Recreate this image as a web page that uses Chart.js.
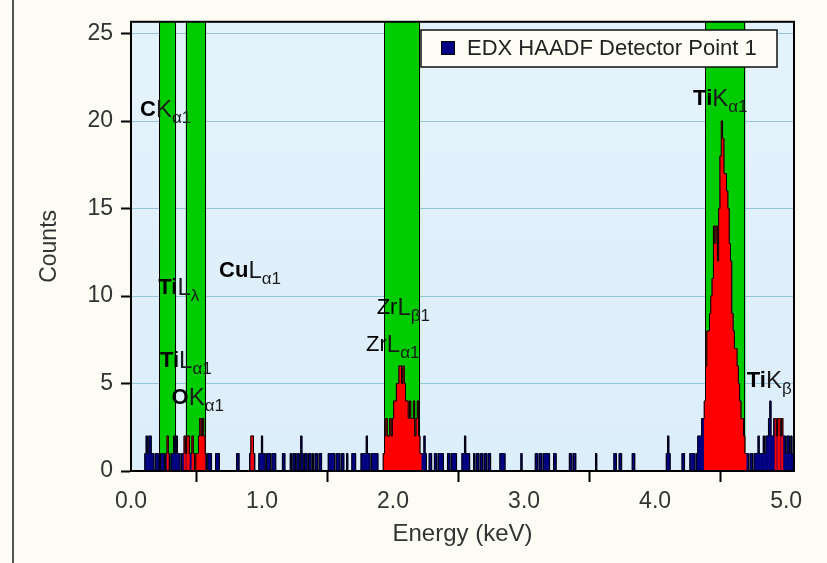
<!DOCTYPE html>
<html>
<head>
<meta charset="utf-8">
<script src="https://cdn.jsdelivr.net/npm/chart.js@4.4.1/dist/chart.umd.min.js"></script>
<style>
html,body{margin:0;padding:0;background:#fcfcf4;}
canvas{display:block;}
</style>
</head>
<body>
<canvas id="c" width="827" height="563"></canvas>
<script>
// ---------------- DATA ----------------
const channelWidth = 0.01; // keV per channel (channel 0 = 0.00 keV)
const seriesLabel = 'EDX HAADF Detector Point 1';
// counts per channel, channels 0..505
const counts = [
  0,0,0,0,0,0,0,0,0,0,
  0,1,2,1,2,2,1,1,0,1,
  1,1,0,1,1,1,0,1,2,1,
  0,1,1,2,1,2,1,1,0,1,
  1,2,1,2,2,1,1,2,1,0,
  1,1,2,3,2,3,2,1,0,1,
  1,1,0,0,0,1,1,1,0,0,
  0,0,0,0,0,0,0,0,0,0,
  0,1,1,0,0,0,0,0,0,0,
  0,1,2,2,1,0,0,0,1,1,
  2,1,1,0,1,1,1,0,1,1,
  1,0,0,0,0,0,1,1,0,0,
  0,0,1,0,1,1,0,1,1,0,
  2,1,0,1,1,0,1,1,0,1,
  0,1,1,0,1,1,0,0,0,0,
  0,1,1,1,1,1,0,1,1,1,
  0,1,1,0,0,1,0,0,0,1,
  1,1,0,0,0,0,1,1,1,1,
  2,1,1,0,1,1,1,1,1,0,
  0,0,0,1,2,3,2,2,3,2,
  3,4,4,5,5,6,6,5,6,5,
  4,4,3,4,3,3,4,2,3,4,
  2,1,1,1,2,1,0,0,1,1,
  0,0,1,1,0,1,1,1,1,0,
  0,0,1,1,0,1,1,1,1,0,
  0,0,0,1,1,2,1,1,1,0,
  0,0,1,0,1,1,0,1,1,0,
  1,1,0,1,1,0,0,0,0,0,
  0,0,1,1,1,1,0,0,0,0,
  0,0,0,0,0,0,0,0,1,0,
  0,0,0,0,0,0,0,0,0,1,
  1,0,1,1,0,1,1,1,1,1,
  0,0,0,1,1,0,0,0,0,0,
  0,0,0,0,0,1,1,0,1,1,
  0,0,0,0,0,0,0,0,0,0,
  0,0,0,0,0,1,0,0,0,0,
  0,0,0,0,0,0,0,0,0,1,
  1,0,0,1,1,0,0,0,0,0,
  0,0,0,1,1,0,0,0,0,0,
  0,0,0,0,0,0,0,0,0,0,
  0,0,0,0,0,0,0,0,0,1,
  2,1,0,0,0,0,0,0,0,0,
  0,1,1,0,0,0,0,1,1,1,
  1,0,1,2,2,2,3,3,4,6,
  8,8,9,10,11,14,13,14,12,15,
  18,20,19,17,17,16,15,13,12,9,
  8,7,7,6,5,4,3,3,2,1,
  1,1,0,1,1,0,1,1,1,2,
  1,1,1,2,1,2,2,3,4,2,
  2,3,3,2,3,3,2,3,2,2,
  1,2,2,1,2,1
];
// identified-peak counts drawn in red (channel, count)
const peakChannels = [
  28,
  41,43,44,47,48,50,51,52,53,54,55,56,
  92,93,
  193,194,195,196,197,198,199,200,201,202,203,204,205,206,207,208,209,210,211,212,213,214,215,216,217,218,219,220,221,
  438,439,440,441,442,443,444,445,446,447,448,449,450,451,452,453,454,455,456,457,458,459,460,461,462,463,464,465,466,467,468,469,
  492,494,495,497
];
const peakCounts = [
  2,
  2,2,2,2,1,1,1,2,3,2,3,2,
  2,2,
  1,2,3,2,2,3,2,3,4,4,5,5,6,6,5,6,5,4,4,3,4,3,3,4,2,3,4,2,1,
  4,6,8,8,9,10,11,14,13,14,12,15,18,20,19,17,17,16,15,13,12,9,8,7,7,6,5,4,3,3,2,1,
  3,3,3,3
];
// element windows (keV)
const bandStarts = [0.216, 0.418, 1.934, 4.384];
const bandEnds   = [0.344, 0.573, 2.206, 4.689];
// axis ticks
const xTicks = [0, 1, 2, 3, 4, 5];
const yTicks = [0, 5, 10, 15, 20, 25];
// line labels
const labelElements = ['C', 'Ti', 'Cu', 'Ti', 'O', 'Zr', 'Zr', 'Ti', 'Ti'];
const labelLines    = ['K', 'L', 'L', 'L', 'K', 'L', 'L', 'K', 'K'];
const labelSubs     = ['α1', 'λ', 'α1', 'α1', 'α1', 'β1', 'α1', 'α1', 'β'];
const labelBold     = [true, true, true, true, true, false, false, true, true];
const labelEnergies = [0.069, 0.208, 0.672, 0.221, 0.31, 1.875, 1.794, 4.29, 4.70];
const labelCounts   = [20.3, 10.1, 11.06, 5.92, 3.85, 9.0, 6.87, 20.9, 4.8];

// ---------------- CHART ----------------
const FONT = "'Liberation Sans', Arial, sans-serif";
const spectrum = counts.map((c, i) => ({ x: +(i * channelWidth).toFixed(2), y: c }));
const peaks = peakChannels.map((ch, k) => ({ x: +(ch * channelWidth).toFixed(2), y: peakCounts[k] }));

const decor = {
  id: 'decor',
  beforeDraw(chart) {
    const { ctx, chartArea: a } = chart;
    ctx.save();
    ctx.fillStyle = '#fcfcf4';
    ctx.fillRect(0, 0, chart.width, chart.height);
    ctx.fillStyle = '#555';
    ctx.fillRect(12, 0, 2, chart.height);
    const g = ctx.createLinearGradient(0, a.top, 0, a.bottom);
    g.addColorStop(0, '#e4f2fb');
    g.addColorStop(1, '#dceefa');
    ctx.fillStyle = g;
    ctx.fillRect(a.left, a.top, a.right - a.left, a.bottom - a.top);
    ctx.restore();
  },
  beforeDatasetsDraw(chart) {
    const { ctx, chartArea: a, scales: { x } } = chart;
    ctx.save();
    for (let k = 0; k < bandStarts.length; k++) {
      const x0 = x.getPixelForValue(bandStarts[k]);
      const x1 = x.getPixelForValue(bandEnds[k]);
      ctx.fillStyle = '#00cc00';
      ctx.fillRect(x0, a.top, x1 - x0, a.bottom - a.top);
      ctx.strokeStyle = '#000';
      ctx.lineWidth = 1;
      ctx.beginPath();
      ctx.moveTo(Math.round(x0) + 0.5, a.top); ctx.lineTo(Math.round(x0) + 0.5, a.bottom);
      ctx.moveTo(Math.round(x1) - 0.5, a.top); ctx.lineTo(Math.round(x1) - 0.5, a.bottom);
      ctx.stroke();
    }
    ctx.restore();
  },
  afterDraw(chart) {
    const { ctx, chartArea: a, scales: { x, y } } = chart;
    ctx.save();
    // labels
    ctx.beginPath();
    ctx.rect(a.left, a.top, a.right - a.left, a.bottom - a.top);
    ctx.clip();
    ctx.textBaseline = 'alphabetic';
    ctx.textAlign = 'left';
    for (let k = 0; k < labelElements.length; k++) {
      let px = x.getPixelForValue(labelEnergies[k]);
      const py = y.getPixelForValue(labelCounts[k]);
      ctx.fillStyle = '#000';
      ctx.font = (labelBold[k] ? 'bold ' : '') + '22px ' + FONT;
      ctx.fillText(labelElements[k], px, py);
      px += ctx.measureText(labelElements[k]).width;
      ctx.fillStyle = '#1a1a1a';
      ctx.font = '24px ' + FONT;
      ctx.fillText(labelLines[k], px, py + 1);
      px += ctx.measureText(labelLines[k]).width;
      ctx.font = '17px ' + FONT;
      ctx.fillText(labelSubs[k], px, py + 7);
    }
    ctx.restore();
    // frame
    ctx.save();
    ctx.strokeStyle = '#000';
    ctx.lineWidth = 2;
    ctx.strokeRect(a.left, a.top, a.right - a.left, a.bottom - a.top);
    // legend
    const lx = 421, ly = 30, lw = 356, lh = 37;
    ctx.fillStyle = '#fdfdf6';
    ctx.fillRect(lx, ly, lw, lh);
    ctx.lineWidth = 1.5;
    ctx.strokeStyle = '#111';
    ctx.strokeRect(lx, ly, lw, lh);
    ctx.fillStyle = '#000080';
    ctx.fillRect(441, 41, 14, 14);
    ctx.lineWidth = 1;
    ctx.strokeStyle = '#000';
    ctx.strokeRect(441.5, 41.5, 13, 13);
    ctx.fillStyle = '#222';
    ctx.font = '22px ' + FONT;
    ctx.textBaseline = 'middle';
    ctx.fillText(chart.data.datasets[1].label, 467, 49);
    ctx.restore();
  }
};

new Chart(document.getElementById('c').getContext('2d'), {
  type: 'bar',
  data: {
    datasets: [
      { type: 'line', label: 'outline', data: spectrum, stepped: 'middle', borderColor: '#000', borderWidth: 1,
        pointRadius: 0, fill: false, order: 0 },
      { label: seriesLabel, data: spectrum, backgroundColor: '#000080', borderWidth: 0, grouped: false,
        barPercentage: 1, categoryPercentage: 1, order: 2 },
      { label: 'peaks', data: peaks, backgroundColor: '#ff0000', borderWidth: 0, grouped: false,
        barPercentage: 1, categoryPercentage: 1, order: 1 }
    ]
  },
  options: {
    responsive: false,
    animation: false,
    devicePixelRatio: 1,
    layout: { padding: { left: 0, right: 33, top: 12, bottom: 0 } },
    plugins: { legend: { display: false }, tooltip: { enabled: false } },
    scales: {
      x: {
        type: 'linear', min: 0, max: 5.06, offset: false,
        afterBuildTicks: s => { s.ticks = xTicks.map(v => ({ value: v })); },
        afterFit: s => { s.height = 92; },
        grid: { drawOnChartArea: false, drawTicks: true, tickLength: 11, tickColor: '#000', tickWidth: 2 },
        border: { display: true, color: '#000', width: 2 },
        ticks: { color: '#333', font: { family: FONT, size: 23 }, padding: 6, maxRotation: 0,
                 callback: v => Number(v).toFixed(1) },
        title: { display: true, text: 'Energy (keV)', color: '#333', font: { family: FONT, size: 24 },
                 padding: { top: 0, bottom: 14 } }
      },
      y: {
        type: 'linear', min: 0, max: 25.67,
        afterBuildTicks: s => { s.ticks = yTicks.map(v => ({ value: v })); },
        afterFit: s => { s.width = 131; },
        grid: { color: '#93c5da', lineWidth: 1, drawTicks: true, tickLength: 10, tickColor: '#000', tickWidth: 2 },
        border: { display: true, color: '#000', width: 2 },
        ticks: { color: '#333', font: { family: FONT, size: 23 }, padding: 8, callback: v => String(v) },
        title: { display: true, text: 'Counts', color: '#333', font: { family: FONT, size: 23 },
                 padding: { top: 36, bottom: 0 } }
      }
    }
  },
  plugins: [decor]
});
</script>
</body>
</html>
